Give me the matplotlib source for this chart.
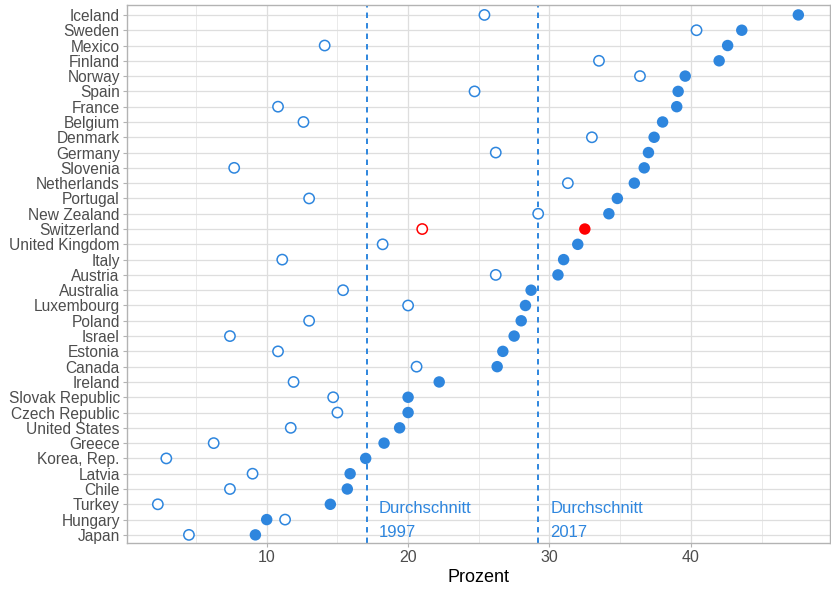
import matplotlib.pyplot as plt

plt.rcParams["font.family"] = ["Liberation Sans", "DejaVu Sans"]

# Länder von oben nach unten (sortiert nach 2017)
COUNTRIES = [
    "Iceland", "Sweden", "Mexico", "Finland", "Norway", "Spain", "France",
    "Belgium", "Denmark", "Germany", "Slovenia", "Netherlands", "Portugal",
    "New Zealand", "Switzerland", "United Kingdom", "Italy", "Austria",
    "Australia", "Luxembourg", "Poland", "Israel", "Estonia", "Canada",
    "Ireland", "Slovak Republic", "Czech Republic", "United States", "Greece",
    "Korea, Rep.", "Latvia", "Chile", "Turkey", "Hungary", "Japan",
]

VAL_2017 = [
    47.6, 43.6, 42.6, 42.0, 39.6, 39.1, 39.0, 38.0, 37.4, 37.0, 36.7, 36.0,
    34.8, 34.2, 32.5, 32.0, 31.0, 30.6, 28.7, 28.3, 28.0, 27.5, 26.7, 26.3,
    22.2, 20.0, 20.0, 19.4, 18.3, 17.0, 15.9, 15.7, 14.5, 10.0, 9.2,
]

VAL_1997 = [
    25.4, 40.4, 14.1, 33.5, 36.4, 24.7, 10.8, 12.6, 33.0, 26.2, 7.7, 31.3,
    13.0, 29.2, 21.0, 18.2, 11.1, 26.2, 15.4, 20.0, 13.0, 7.4, 10.8, 20.6,
    11.9, 14.7, 15.0, 11.7, 6.25, 2.9, 9.0, 7.4, 2.3, 11.3, 4.5,
]

AVG_1997 = 17.1
AVG_2017 = 29.2
HIGHLIGHT = "Switzerland"

BLUE = "#2E86DE"
RED = "#FF0000"


def main() -> None:
    n = len(COUNTRIES)
    fig = plt.figure(figsize=(8.31, 5.89), dpi=100)
    ax = fig.add_axes([0.1525, 0.0776, 0.8463, 0.9134])

    ys = [n - 1 - i for i in range(n)]
    cols = [RED if c == HIGHLIGHT else BLUE for c in COUNTRIES]

    # Gitter (major + minor), wie theme_light
    for v in (10, 20, 30, 40):
        ax.axvline(v, color="#DEDEDE", lw=0.9, zorder=0)
    for v in (5, 15, 25, 35, 45):
        ax.axvline(v, color="#E6E6E6", lw=0.6, zorder=0)
    for y in ys:
        ax.axhline(y, color="#DEDEDE", lw=0.9, zorder=0)

    # Durchschnittslinien
    for avg, year in ((AVG_1997, "1997"), (AVG_2017, "2017")):
        ax.axvline(avg, color=BLUE, lw=1.4, ls=(0, (2.8, 2.6)), zorder=1)
        ax.text(avg + 0.85, 0.92, f"Durchschnitt\n{year}", color=BLUE,
                fontsize=12, ha="left", va="center", linespacing=1.75,
                zorder=2)

    # 1997: offene Kreise, 2017: gefüllte Punkte
    ax.scatter(VAL_1997, ys, s=55, facecolors="white", edgecolors=cols,
               linewidths=1.1, zorder=3)
    ax.scatter(VAL_2017, ys, s=68, color=cols, edgecolors="none", zorder=4)

    ax.set_yticks(ys)
    ax.set_yticklabels(COUNTRIES, fontsize=11.2, color="#4D4D4D")
    ax.set_xticks([10, 20, 30, 40])
    ax.set_xticklabels(["10", "20", "30", "40"], fontsize=11.5, color="#4D4D4D")
    ax.tick_params(axis="y", length=3, color="#B3B3B3", pad=2)
    ax.tick_params(axis="x", length=3, color="#B3B3B3", pad=2)
    ax.set_xlim(0.1, 49.84)
    ax.set_ylim(-0.55, n - 1 + 0.63)
    ax.set_xlabel("Prozent", fontsize=13, color="black", labelpad=3)

    for spine in ax.spines.values():
        spine.set_color("#B3B3B3")
        spine.set_linewidth(1.0)

    fig.savefig("out.png", dpi=100, facecolor="white")


if __name__ == "__main__":
    main()
